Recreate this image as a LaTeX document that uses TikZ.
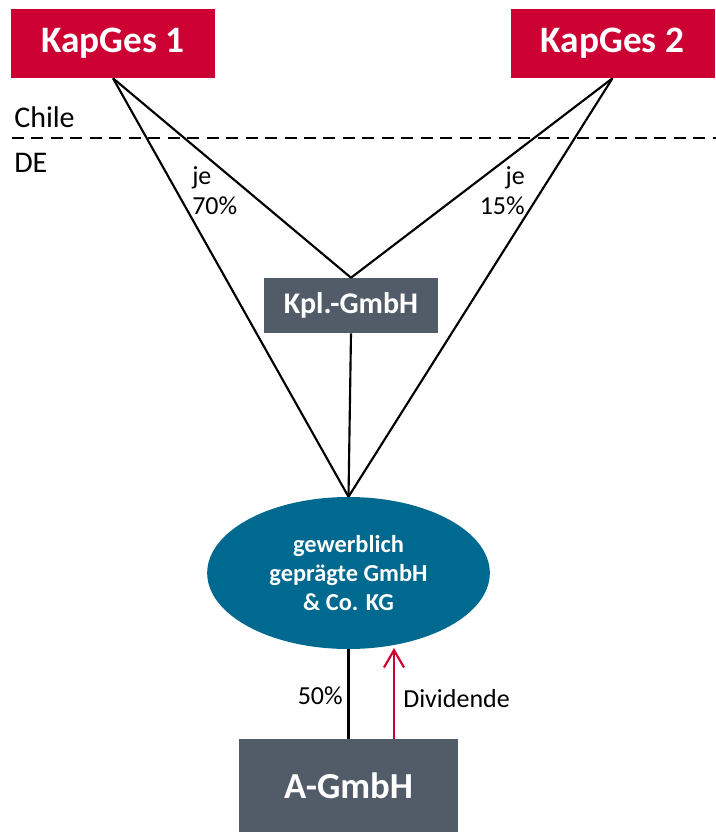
\documentclass[tikz,border=0pt]{standalone}
\usepackage{fontspec}
\setmainfont{Carlito}
\usetikzlibrary{positioning,calc,arrows.meta,shapes.geometric}
\definecolor{kapred}{HTML}{CC0033}
\definecolor{slategray}{HTML}{525C68}
\definecolor{kgteal}{HTML}{00698F}

\begin{document}
\begin{tikzpicture}[x=0.75pt,y=-0.75pt,
  redbox/.style={fill=kapred,text=white,font=\fontsize{28}{33}\selectfont\bfseries,minimum width=153pt,minimum height=51.75pt,inner sep=0pt},
  graybox/.style={fill=slategray,text=white,font=\bfseries,inner sep=0pt},
  tag/.style={font=\fontsize{19.5}{22.5}\selectfont,inner sep=0pt},
  link/.style={line width=1.6pt,black}]
\useasboundingbox (0,0) rectangle (716,832);
\node[redbox] (k1) at (113,43.5) {KapGes 1};
\node[redbox] (k2) at (612.5,43.5) {KapGes 2};
\node[graybox,font=\fontsize{22.5}{27}\selectfont\bfseries,minimum width=130.5pt,minimum height=41.25pt] (kpl) at (351,305.5) {Kpl.-GmbH};
\node[ellipse,fill=kgteal,text=white,align=center,inner sep=0pt,minimum width=212pt,minimum height=114pt,font=\fontsize{18.3}{21.4}\selectfont\bfseries] (kg) at (348.5,573) {gewerblich\\gepr\"agte GmbH\\\& Co. KG};
\node[graybox,font=\fontsize{27.5}{33}\selectfont\bfseries,minimum width=164.25pt,minimum height=70pt] (ag) at (348.5,785.5) {A-GmbH};
% Grenze Chile / DE
\coordinate (bl) at (12,138);
\coordinate (br) at (716,138);
\draw[line width=1.5pt,dash pattern=on 9pt off 5.6pt] (bl) -- (br);
\node[tag,font=\fontsize{22.5}{27}\selectfont,anchor=base west] (chile) at (14,127) {Chile};
\node[tag,font=\fontsize{22.5}{27}\selectfont,anchor=base west] (de) at (14,172) {DE};
% Beteiligungen
\draw[link] (k1.south) -- (kpl.north);
\draw[link] (k1.south) -- (kg.north);
\draw[link] (k2.south) -- (kpl.north);
\draw[link] (k2.south) -- (kg.north);
\draw[link] (kpl.south) -- (kg.north);
\draw[link] (kg.south) -- (ag.north);
\node[tag,align=left,anchor=north west] (q1) at (192,166) {je\\70\%};
\node[tag,align=right,anchor=north east] (q2) at (525,166) {je\\15\%};
\node[tag,anchor=base east] (q3) at (343,704) {50\%};
% Dividende
\coordinate (divtip) at (394,648);
\draw[line width=1.6pt,kapred,-{Straight Barb[length=13pt,width=15pt,line width=1.6pt]}] (ag.north -| divtip) -- (divtip);
\node[tag,anchor=base west] (div) at (403,707) {Dividende};
\end{tikzpicture}
\end{document}
